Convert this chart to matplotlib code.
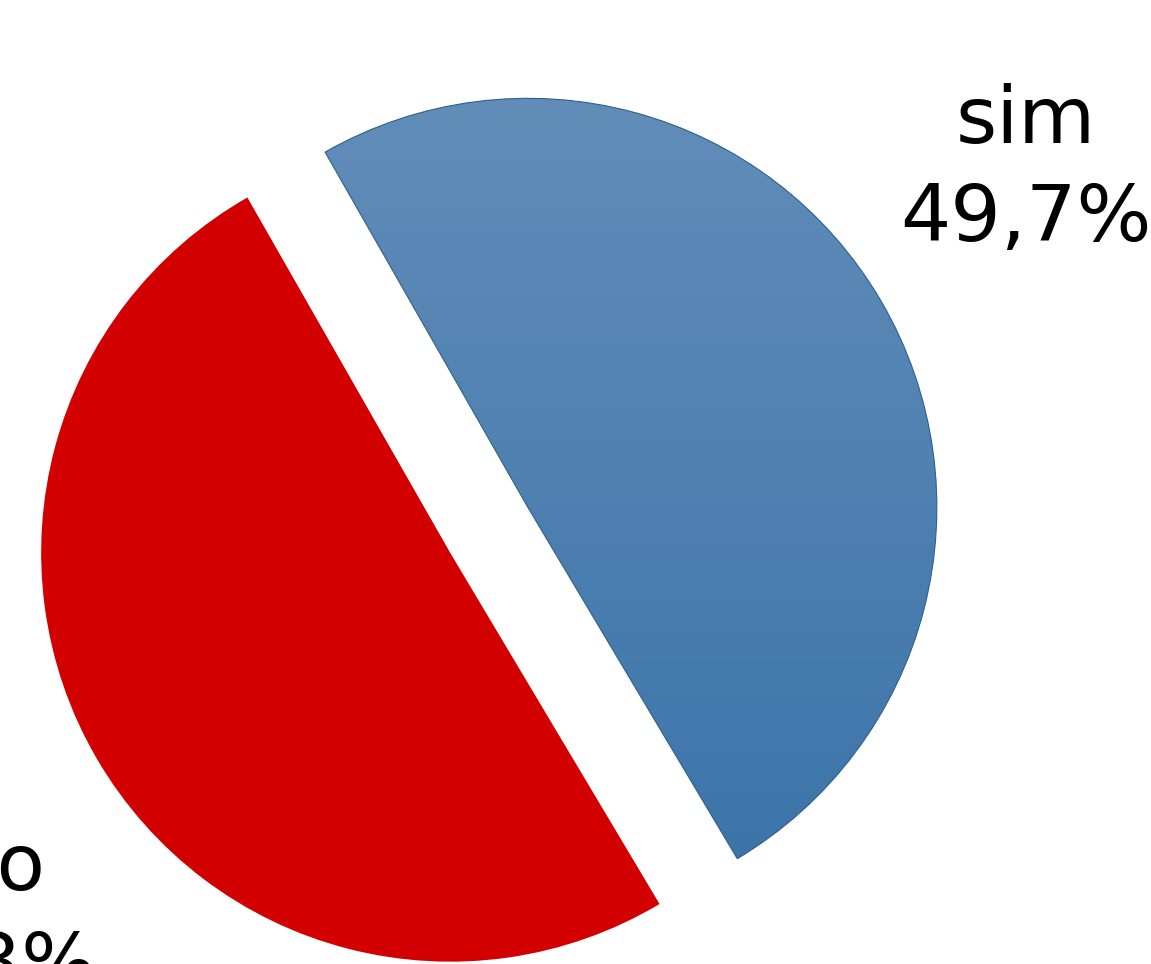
import numpy as np
import matplotlib
matplotlib.use("Agg")
import matplotlib.pyplot as plt
from matplotlib.colors import LinearSegmentedColormap

# data
labels = ["sim", "não"]
shares = [49.7, 50.3]
pct_text = ["49,7%", "50,3%"]

fig = plt.figure(figsize=(11.51, 9.64), dpi=100)
ax = fig.add_axes([0, 0, 1, 1])

# pie centre at pixel (489, 530), radius ~409 px
wedges, _ = ax.pie(shares, startangle=-59.2, counterclock=True,
                   colors=["#4f83b6", "#d20000"], explode=[0.11, 0.11],
                   radius=1.0)

ax.set_xlim(-489 / 409, (1151 - 489) / 409)
ax.set_ylim(-434 / 409, 530 / 409)
ax.set_aspect("equal")
ax.axis("off")

# blue slice: vertical gradient + soft edge shadow
blue = wedges[0]
blue.set_facecolor("none")
blue.set_edgecolor("#2f5f8c")
blue.set_linewidth(0.8)
cmap = LinearSegmentedColormap.from_list("bl", ["#3771a7", "#6690bb"])
grad = np.linspace(0, 1, 256).reshape(-1, 1)
img = ax.imshow(grad, cmap=cmap, origin="lower", aspect="auto",
                extent=[-1.3, 1.7, -1.1, 1.3], zorder=0.5)
img.set_clip_path(blue)

wedges[1].set_edgecolor("none")

# labels placed a bit off the slice middle, like the source
for w, name, pct, shift in zip(wedges, labels, pct_text, [3.6, 6.6]):
    mid = np.deg2rad((w.theta1 + w.theta2) / 2 + shift)
    x = 1.58 * np.cos(mid)
    y = 1.58 * np.sin(mid)
    ax.text(x, y, f"{name}\n{pct}", ha="center", va="center",
            fontsize=57, family="DejaVu Sans", color="black",
            linespacing=1.38)

fig.savefig("out.png", dpi=100)
